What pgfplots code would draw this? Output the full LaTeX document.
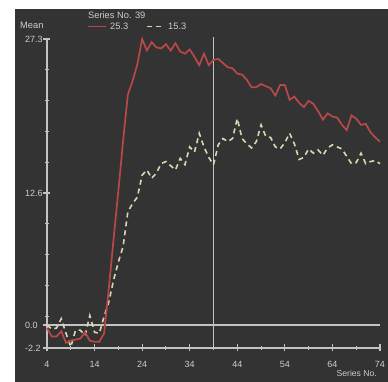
\documentclass[border=0pt]{standalone}
\usepackage{fontspec}
\setmainfont{Liberation Sans}
\usepackage{pgfplots}
\usepackage{pgfplotstable}
\pgfplotsset{compat=1.18}
\definecolor{bg}{RGB}{51,51,51}
\definecolor{fg}{RGB}{205,205,205}
\definecolor{axc}{RGB}{195,195,195}
\definecolor{redl}{RGB}{185,72,72}
\definecolor{crm}{RGB}{218,216,175}

\pgfplotstableread{
x red dash
4 -0.3 0.0
5 -1.1 -0.4
6 -1.1 -0.3
7 -0.6 0.6
8 -1.7 -0.8
9 -1.5 -2.1
10 -1.4 -0.5
11 -1.3 -0.5
12 -0.7 -1.0
13 -1.5 0.9
14 -1.6 -0.7
15 -1.6 -0.8
16 -0.8 0.8
17 3.5 2.2
18 8.2 4.3
19 12.8 6.0
20 17.6 7.5
21 22.0 10.8
22 23.3 11.6
23 24.9 12.2
24 27.3 14.3
25 26.2 14.8
26 27.0 14.0
27 26.5 14.5
28 26.4 15.4
29 26.8 15.6
30 26.2 15.2
31 26.9 14.8
32 26.1 15.9
33 25.9 15.3
34 26.3 17.0
35 25.6 16.5
36 24.8 18.3
37 25.9 17.0
38 24.8 16.0
39 25.3 15.3
40 25.4 17.2
41 25.0 17.8
42 24.6 17.5
43 24.5 17.8
44 24.0 19.7
45 23.9 17.8
46 23.4 17.3
47 22.7 16.9
48 22.7 17.5
49 23.0 19.1
50 22.8 18.0
51 22.6 17.9
52 21.9 17.0
53 22.9 16.8
54 22.9 17.4
55 21.5 18.3
56 21.8 17.3
57 21.2 15.8
58 20.8 16.0
59 21.4 16.8
60 21.1 16.4
61 20.4 16.7
62 19.6 16.2
63 20.2 16.9
64 19.9 17.2
65 19.8 17.0
66 19.1 16.8
67 18.6 16.1
68 20.0 15.4
69 19.7 15.5
70 19.1 16.4
71 19.2 15.4
72 18.4 15.6
73 17.9 15.7
74 17.5 15.4
}\datatable

\begin{document}
\begin{tikzpicture}[x=1pt,y=1pt]
\path[use as bounding box] (0,0) rectangle (388,382);
\fill[white] (0,0) rectangle (388,382);
\fill[bg] (15,0) rectangle (388,373);
\begin{axis}[
  at={(47pt,34pt)}, anchor=south west,
  scale only axis, width=333pt, height=309pt,
  xmin=4, xmax=74, ymin=-2.2, ymax=27.3,
  axis x line=bottom, axis y line=left,
  axis line style={-, axc, line width=1.1pt},
  xtick={4,14,...,74}, minor xtick={9,19,...,69},
  ytick={-2.2,0,12.6,27.3},
  yticklabels={-2.2,0.0,12.6,27.3},
  minor ytick={0.84,3.78,6.72,9.66,15.54,18.48,21.42,24.36},
  tick align=center, major tick length=7pt, minor tick length=4pt,
  every tick/.style={axc, line width=1.1pt},
  every minor tick/.style={axc, line width=1.1pt},
  ticklabel style={font=\fontsize{9}{10}\selectfont, text=fg},
  xticklabel style={yshift=-6pt},
  yticklabel style={anchor=west, xshift=-22pt},
  /pgf/number format/assume math mode=true,
  clip=false,
]
\addplot[axc, line width=1.4pt] coordinates {(4,0) (74,0)};
\addplot[axc, line width=1.4pt] coordinates {(39,-2.2) (39,27.5)};
\addplot[crm, line width=1.6pt, dash pattern=on 5pt off 4pt] table[x=x, y=dash] {\datatable};
\addplot[redl, line width=1.7pt] table[x=x, y=red] {\datatable};
\end{axis}
\node[anchor=west, inner sep=0, text=fg, font=\fontsize{9.3}{10}\selectfont] at (88,366.5) {Series No. 39};
\draw[redl, line width=1.7pt] (88,355.5) -- (106,355.5);
\node[anchor=west, inner sep=0, text=fg, font=\fontsize{9.3}{10}\selectfont] at (110,356) {25.3};
\draw[crm, line width=1.6pt, dash pattern=on 4.5pt off 4.5pt] (147,355.5) -- (161,355.5);
\node[anchor=west, inner sep=0, text=fg, font=\fontsize{9.3}{10}\selectfont] at (168,356) {15.3};
\node[anchor=west, inner sep=0, text=fg, font=\fontsize{9.3}{10}\selectfont] at (20,357) {Mean};
\node[anchor=east, inner sep=0, text=fg, font=\fontsize{8.6}{10}\selectfont] at (377,8.5) {Series No.};
\end{tikzpicture}
\end{document}
